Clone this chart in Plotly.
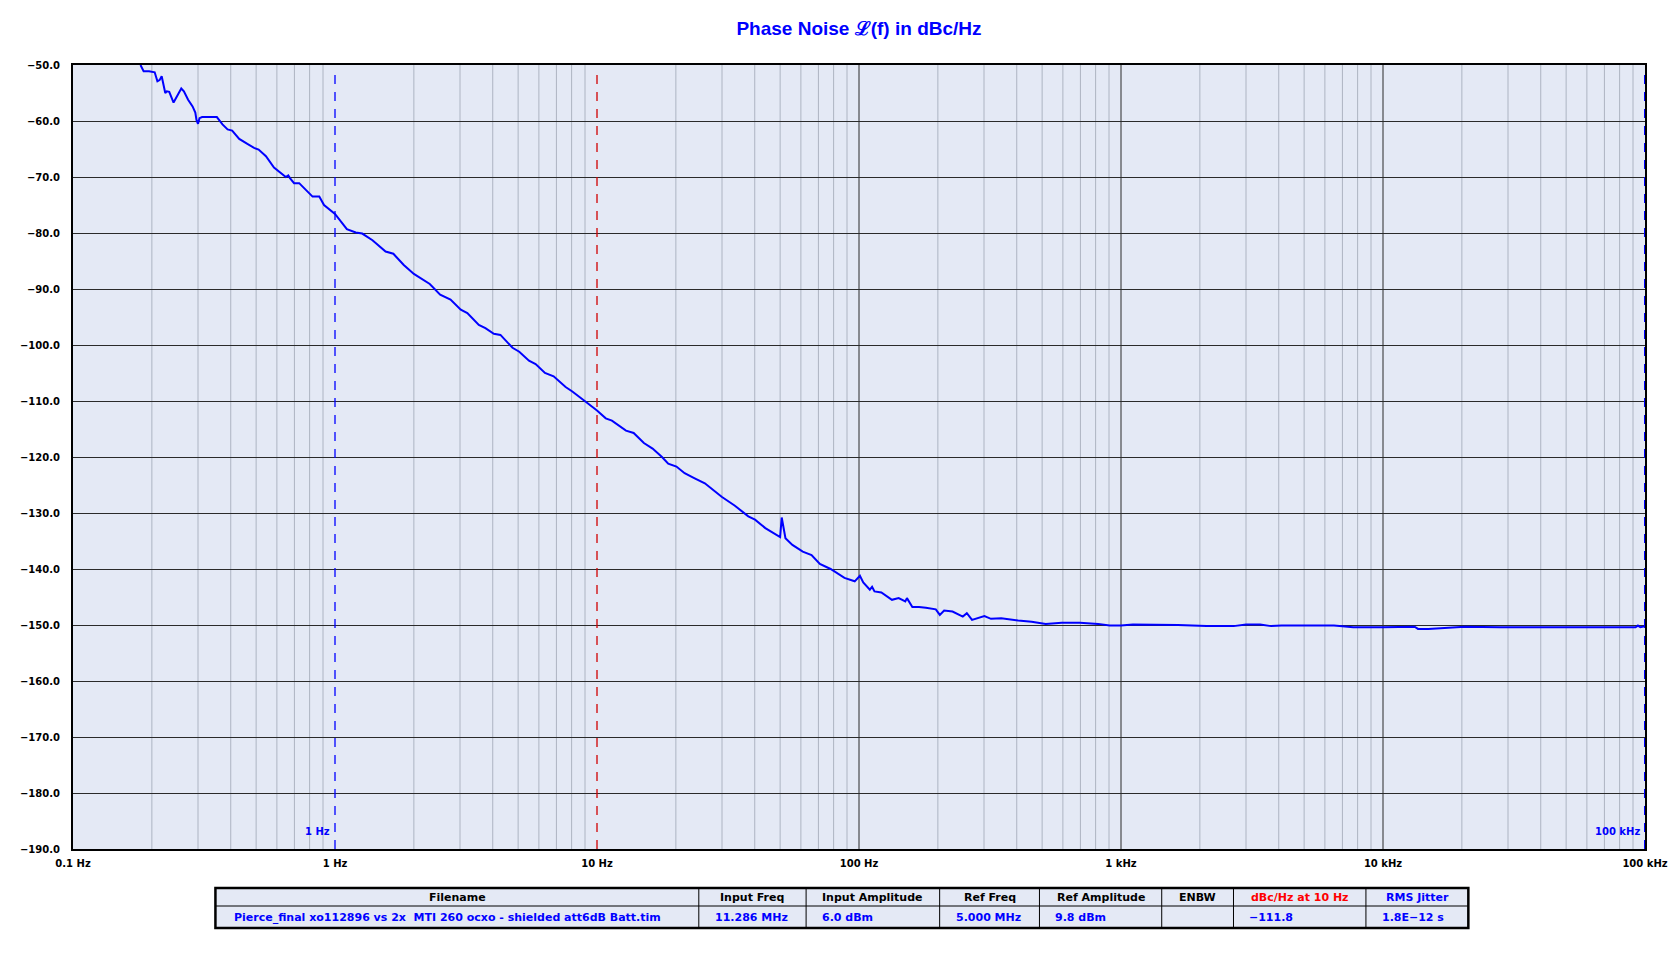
import math
import plotly.graph_objects as go

# ---------------- data ----------------
freq_hz = [0.181, 0.186, 0.195, 0.205, 0.210, 0.214, 0.218, 0.222, 0.225, 0.228, 0.233, 0.242,
           0.248, 0.259, 0.265, 0.275, 0.286, 0.293, 0.296, 0.300, 0.304, 0.311, 0.333, 0.354,
           0.372, 0.389, 0.405, 0.431, 0.463, 0.491, 0.511, 0.545, 0.585, 0.630, 0.649, 0.663,
           0.673, 0.698, 0.730, 0.774, 0.821, 0.871, 0.908, 1.00, 1.11, 1.20, 1.27, 1.39, 1.56,
           1.67, 1.83, 2.00, 2.20, 2.30, 2.52, 2.76, 3.02, 3.20, 3.54, 3.75, 4.04, 4.28, 4.76,
           5.05, 5.50, 5.83, 6.33, 6.83, 7.59, 8.05, 9.03, 10.0, 10.8, 11.4, 12.9, 13.8, 15.1,
           16.3, 17.7, 18.7, 20.1, 21.6, 23.6, 25.8, 29.9, 33.6, 37.8, 40.1, 43.9, 49.4, 50.0,
           50.7, 51.4, 52.4, 55.7, 61.0, 65.9, 70.9, 77.9, 88.0, 96.3, 100.8, 103.8, 110.0,
           112.2, 114.6, 121.7, 133.6, 141.7, 150.2, 152.4, 159.8, 169.4, 180.0, 196.4, 203.5,
           211.3, 227.5, 249.0, 258.0, 270.0, 301.0, 319.0, 349.0, 405.0, 456.0, 516.0, 594.0,
           697.0, 818.0, 905.0, 1000.0, 1110.0, 1650.0, 2120.0, 2690.0, 3000.0, 3400.0, 3740.0,
           4100.0, 6500.0, 7700.0, 10000.0, 13200.0, 13600.0, 14900.0, 20500.0, 28000.0,
           92000.0, 94000.0, 96000.0, 100000.0]
phase_noise_dbc = [-50.0, -51.1, -51.1, -51.3, -52.9, -52.7, -52.0, -53.5, -55.0, -54.7, -54.8, -56.7,
                   -55.7, -54.2, -54.7, -56.2, -57.4, -58.5, -59.8, -60.5, -59.5, -59.3, -59.3, -59.3,
                   -60.6, -61.5, -61.7, -63.2, -64.1, -64.8, -65.1, -66.3, -68.3, -69.6, -70.0, -69.7,
                   -70.2, -71.1, -71.1, -72.3, -73.5, -73.5, -75.0, -76.6, -79.3, -79.9, -80.1, -81.3, -83.3,
                   -83.7, -85.7, -87.3, -88.6, -89.1, -91.0, -91.9, -93.7, -94.3, -96.4, -97.0, -98.0, -98.2, -100.5,
                   -101.2, -102.8, -103.4, -105.0, -105.6, -107.5, -108.3, -110.1, -111.7, -113.1, -113.5, -115.3, -115.7, -117.5,
                   -118.5, -120.0, -121.2, -121.7, -122.9, -123.8, -124.7, -127.1, -128.7, -130.6, -131.2, -132.7, -134.2, -134.3,
                   -130.8, -132.1, -134.5, -135.7, -136.9, -137.5, -139.1, -140.0, -141.6, -142.2, -141.2, -142.4, -143.7,
                   -143.2, -144.0, -144.2, -145.5, -145.2, -145.8, -145.2, -146.8, -146.8, -146.9, -147.2, -148.2,
                   -147.4, -147.6, -148.5, -147.9, -149.1, -148.4, -148.9, -148.8, -149.2, -149.4, -149.8, -149.6,
                   -149.6, -149.8, -150.1, -150.1, -149.9, -150.0, -150.2, -150.2, -149.9, -149.9, -150.2,
                   -150.1, -150.1, -150.4, -150.4, -150.3, -150.7, -150.7, -150.3, -150.4,
                   -150.4, -150.1, -150.4, -150.2]

x_tick_vals = [0.1, 1, 10, 100, 1000, 10000, 100000]
x_tick_text = ["0.1 Hz", "1 Hz", "10 Hz", "100 Hz", "1 kHz", "10 kHz", "100 kHz"]
y_tick_vals = [-50, -60, -70, -80, -90, -100, -110, -120, -130, -140, -150, -160, -170, -180, -190]

marker_freqs = [1, 10, 100000]
marker_labels = ["1 Hz", "", "100 kHz"]
marker_colors = ["#0000ff", "#d00000", "#0000ff"]

table_headers = ["Filename", "Input Freq", "Input Amplitude", "Ref Freq", "Ref Amplitude",
                 "ENBW", "dBc/Hz at 10 Hz", "RMS Jitter"]
table_header_colors = ["#000000"] * 6 + ["#ff0000", "#0000ff"]
table_values = ["Pierce_final xo112896 vs 2x  MTI 260 ocxo - shielded att6dB Batt.tim",
                "11.286 MHz", "6.0 dBm", "5.000 MHz", "9.8 dBm", "", "\u2212111.8", "1.8E\u221212 s"]

# ---------------- layout constants (page pixels) ----------------
OFF = 8                      # browser default body margin
W, H = 1680 - OFF, 967 - OFF
PL, PR, PT, PB = 70 - OFF, 1645 - OFF, 65 - OFF, 849 - OFF
BG = "#e4e9f5"
FONT = "DejaVu Sans"


def px_x(px):
    return (px - OFF - PL) / (PR - PL)


def px_y(py):
    return (PB - (py - OFF)) / (PB - PT)


fig = go.Figure()
fig.add_trace(go.Scatter(x=freq_hz, y=phase_noise_dbc, mode="lines",
                         line=dict(color="#0000ff", width=2), showlegend=False,
                         hoverinfo="skip"))

shapes = []
# vertical gridlines
for dec in range(-1, 5):
    for m in range(2, 10):
        fv = m * 10 ** dec
        shapes.append(dict(type="line", xref="x", yref="paper", x0=fv, x1=fv, y0=0, y1=1,
                           line=dict(color="#adb4c2", width=1), layer="below"))
for fv in [100, 1000, 10000]:
    shapes.append(dict(type="line", xref="x", yref="paper", x0=fv, x1=fv, y0=0, y1=1,
                       line=dict(color="#2a2a2a", width=1), layer="below"))
# marker lines
annotations = []
for f, lab, col in zip(marker_freqs, marker_labels, marker_colors):
    shapes.append(dict(type="line", xref="x", yref="paper", x0=f, x1=f, y0=0, y1=0.99,
                       line=dict(color=col, width=2 if f == 100000 else 1.3, dash="9px,8px"),
                       layer="above"))
    if lab:
        annotations.append(dict(text=lab, xref="x", yref="paper", x=math.log10(f), y=px_y(831),
                                xanchor="right", yanchor="middle", xshift=-3, showarrow=False,
                                font=dict(family=FONT, size=10, color=col, weight="bold")))

# table
col_edges = [212.7, 697, 804.5, 938.3, 1038.3, 1160.8, 1232.7, 1365.4, 1468]
t_top, t_mid, t_bot = 888, 906, 928
shapes.append(dict(type="rect", xref="paper", yref="paper",
                   x0=px_x(col_edges[0]), x1=px_x(col_edges[-1]), y0=px_y(t_bot), y1=px_y(t_top),
                   fillcolor=BG, line=dict(color="black", width=2.5), layer="above"))
shapes.append(dict(type="line", xref="paper", yref="paper",
                   x0=px_x(col_edges[0]), x1=px_x(col_edges[-1]), y0=px_y(t_mid), y1=px_y(t_mid),
                   line=dict(color="black", width=1), layer="above"))
for e in col_edges[1:-1]:
    shapes.append(dict(type="line", xref="paper", yref="paper", x0=px_x(e), x1=px_x(e),
                       y0=px_y(t_bot), y1=px_y(t_top), line=dict(color="black", width=1),
                       layer="above"))
for i, (hdr, hcol, val) in enumerate(zip(table_headers, table_header_colors, table_values)):
    x0, x1 = col_edges[i], col_edges[i + 1]
    annotations.append(dict(text=hdr, xref="paper", yref="paper", x=px_x((x0 + x1) / 2),
                            y=px_y((t_top + t_mid) / 2 + 0.5), xanchor="center", yanchor="middle",
                            showarrow=False,
                            font=dict(family=FONT, size=11, color=hcol, weight="bold")))
    if val:
        annotations.append(dict(text=val, xref="paper", yref="paper",
                                x=px_x(x0 + (17 if i == 0 else 14)),
                                y=px_y((t_mid + t_bot) / 2), xanchor="left", yanchor="middle",
                                showarrow=False,
                                font=dict(family=FONT, size=11, color="#0000ff", weight="bold")))

fig.update_layout(
    width=W, height=H,
    margin=dict(l=PL, r=W - PR, t=PT, b=H - PB, pad=0),
    paper_bgcolor="white", plot_bgcolor=BG,
    title=dict(text="Phase Noise \u2112(f) in dBc/Hz", x=0.5, xref="paper", xanchor="center",
               y=1 - (28 - OFF) / H, yref="container", yanchor="middle",
               font=dict(family="Liberation Sans", size=19, color="#0000ff", weight="bold")),
    shapes=shapes, annotations=annotations,
    xaxis=dict(type="log", range=[-1, 5], tickmode="array", tickvals=x_tick_vals,
               ticktext=x_tick_text, showgrid=False, zeroline=False,
               showline=True, linecolor="black", linewidth=2, mirror=True,
               ticks="outside", ticklen=4, tickcolor="rgba(0,0,0,0)",
               tickfont=dict(family=FONT, size=10, color="black", weight="bold")),
    yaxis=dict(range=[-190, -50], tickmode="array", tickvals=y_tick_vals, tickformat=".1f",
               showgrid=True, gridcolor="#2a2a2a", gridwidth=1, zeroline=False,
               showline=True, linecolor="black", linewidth=2, mirror=True,
               ticks="outside", ticklen=9, tickcolor="rgba(0,0,0,0)",
               tickfont=dict(family=FONT, size=10, color="black", weight="bold")),
    hovermode=False,
)

fig.write_html("out.html")
